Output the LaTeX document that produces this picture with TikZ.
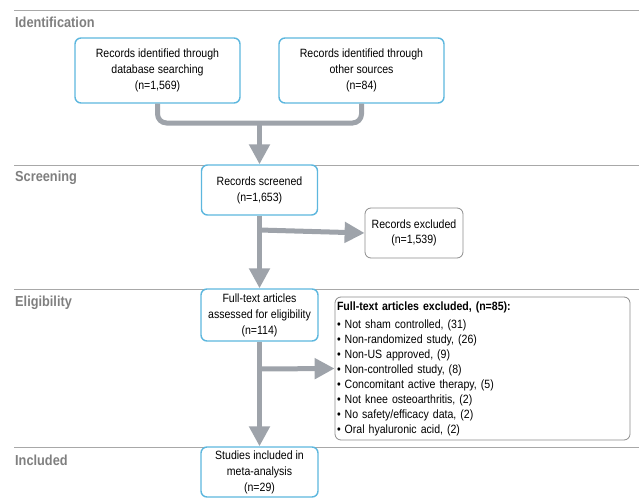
\documentclass[tikz,border=0pt]{standalone}
\usepackage{fontspec}
\setmainfont{Liberation Sans}[FakeStretch=0.88]
\usepackage{tikz}
\usetikzlibrary{arrows.meta}

\definecolor{boxblue}{HTML}{5DB7DE}
\definecolor{arrowgray}{HTML}{9EA3AA}
\definecolor{rulegray}{HTML}{A8A8A8}
\definecolor{labelgray}{HTML}{7F7F7F}

\tikzset{
  stagebox/.style={draw=boxblue, line width=1.4pt, rounded corners=6pt, fill=white,
    align=center, inner sep=2pt, font=\fontsize{12}{16}\selectfont},
  exclbox/.style={draw=black!45, line width=0.8pt, rounded corners=6pt, fill=white,
    inner sep=2pt, font=\fontsize{12}{15}\selectfont},
  flow/.style={draw=arrowgray, line width=5pt},
  flowarrow/.style={flow, -{Triangle[width=20pt,length=20pt]}},
  stagerule/.style={draw=rulegray, line width=0.8pt},
  stagelabel/.style={anchor=west, inner sep=1pt, text=labelgray, font=\fontsize{14.5}{16}\selectfont\bfseries}
}

\begin{document}
\begin{tikzpicture}[x=1pt,y=-1pt]
\useasboundingbox (0,0) rectangle (639,500);

\draw[stagerule] (14,10) -- (639,10);
\draw[stagerule] (14,165) -- (639,165);
\draw[stagerule] (14,289) -- (639,289);
\draw[stagerule] (14,447) -- (639,447);

\node[stagelabel] (identification) at (14,22) {Identification};
\node[stagelabel] (screening) at (14,178) {Screening};
\node[stagelabel] (eligibility) at (14,303) {Eligibility};
\node[stagelabel] (included) at (14,460) {Included};

\node[stagebox, minimum width=165pt, minimum height=65pt] (database) at (157.5,70.5)
  {Records identified through\\database searching\\(n=1,569)};
\node[stagebox, minimum width=165pt, minimum height=65pt] (othersources) at (361.5,70.5)
  {Records identified through\\other sources\\(n=84)};
\node[stagebox, minimum width=116pt, minimum height=50pt] (screened) at (259.5,190)
  {Records screened\\(n=1,653)};
\node[exclbox, align=center, minimum width=98pt, minimum height=50pt] (recexcluded) at (414,233)
  {Records excluded\\(n=1,539)};
\node[stagebox, minimum width=117pt, minimum height=52pt] (fulltext) at (259.5,315)
  {Full-text articles\\assessed for eligibility\\(n=114)};
\node[exclbox, align=left, text width=291pt, minimum height=143pt] (ftexcluded) at (482.5,368.5)
  {\textbf{Full-text articles excluded, (n=85):}\\[3pt]
   \textbullet\ Not sham controlled, (31)\\
   \textbullet\ Non-randomized study, (26)\\
   \textbullet\ Non-US approved, (9)\\
   \textbullet\ Non-controlled study, (8)\\
   \textbullet\ Concomitant active therapy, (5)\\
   \textbullet\ Not knee osteoarthritis, (2)\\
   \textbullet\ No safety/efficacy data, (2)\\
   \textbullet\ Oral hyaluronic acid, (2)};
\node[stagebox, minimum width=117pt, minimum height=50pt] (studies) at (259.5,472)
  {Studies included in\\meta-analysis\\(n=29)};

\coordinate (merge) at (259.5,123);
\coordinate (split1) at (259.5,230);
\coordinate (split2) at (259.5,369);

\draw[flow, rounded corners=9pt] (database.south) |- (merge) -| (othersources.south);
\draw[flowarrow] (merge) -- (screened.north);
\draw[flowarrow] (screened.south) -- (fulltext.north);
\draw[flowarrow] (split1) -- (recexcluded.west);
\draw[flowarrow] (fulltext.south) -- (studies.north);
\draw[flowarrow] (split2) -- (ftexcluded.west);
\end{tikzpicture}
\end{document}
